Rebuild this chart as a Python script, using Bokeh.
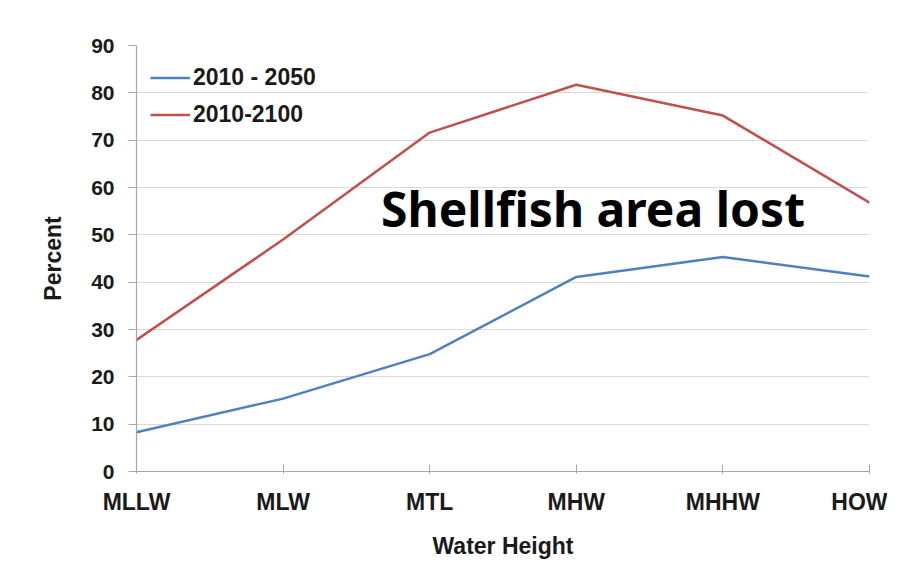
from bokeh.plotting import figure
from bokeh.models import Range1d, FixedTicker, Legend, LegendItem, Label
from bokeh.embed import file_html
from bokeh.resources import INLINE

categories = ["MLLW", "MLW", "MTL", "MHW", "MHHW", "HOW"]
series_2050 = [8.3, 15.4, 24.8, 41.1, 45.3, 41.2]
series_2100 = [27.8, 49.0, 71.6, 81.7, 75.2, 56.8]
y_ticks = [0, 10, 20, 30, 40, 50, 60, 70, 80, 90]

xs = list(range(len(categories)))

FONT = "Liberation Sans"

p = figure(width=887, height=563, output_backend="svg", toolbar_location=None,
           x_range=Range1d(0, len(categories) - 1), y_range=Range1d(0, 90),
           min_border_left=136, min_border_right=18, min_border_top=45, min_border_bottom=92)
p.outline_line_color = None
p.background_fill_color = "white"
p.border_fill_color = "white"

p.xgrid.grid_line_color = None
p.ygrid.grid_line_color = "#d9d9d9"
p.ygrid.grid_line_width = 1.2

p.xaxis.ticker = FixedTicker(ticks=xs)
p.xaxis.major_label_overrides = {i: c for i, c in enumerate(categories)}
p.yaxis.ticker = FixedTicker(ticks=y_ticks)

for ax in (p.xaxis[0], p.yaxis[0]):
    ax.axis_line_color = "#a6a6a6"
    ax.axis_line_width = 1.2
    ax.major_tick_line_color = "#a6a6a6"
    ax.minor_tick_line_color = None
    ax.major_label_text_font = FONT
    ax.major_label_text_font_style = "bold"
    ax.major_label_text_color = "#1a1a1a"
    ax.axis_label_text_font = FONT
    ax.axis_label_text_font_style = "bold"
    ax.axis_label_text_font_size = "23px"
    ax.axis_label_text_color = "#1a1a1a"

p.xaxis.major_label_text_font_size = "23px"
p.yaxis.major_label_text_font_size = "21px"

p.xaxis.major_tick_in = 7
p.xaxis.major_tick_out = 2
p.xaxis.major_label_standoff = 15
p.xaxis.axis_label = "Water Height"
p.xaxis.axis_label_standoff = 15

p.yaxis.major_tick_in = 0
p.yaxis.major_tick_out = 8
p.yaxis.major_label_standoff = 14
p.yaxis.axis_label = "Percent"
p.yaxis.axis_label_standoff = 22

r1 = p.line(xs, series_2050, line_color="#4f81bd", line_width=2.5)
r2 = p.line(xs, series_2100, line_color="#c0504d", line_width=2.5)

legend = Legend(items=[LegendItem(label="2010 - 2050", renderers=[r1]),
                       LegendItem(label="2010-2100", renderers=[r2])],
                location="top_left", margin=14, padding=0, spacing=0,
                glyph_width=40, glyph_height=37, label_height=37, label_standoff=3,
                label_text_font=FONT, label_text_font_style="bold",
                label_text_font_size="23px", label_text_color="#1a1a1a",
                border_line_color=None, background_fill_alpha=0)
p.add_layout(legend)

title = Label(x=3.114, y=55.6, text="Shellfish area lost", text_font="Noto Sans",
              text_font_style="bold", text_font_size="48px", text_color="black",
              text_align="center", text_baseline="middle")
p.add_layout(title)

open("out.html", "w").write(file_html(p, INLINE))
